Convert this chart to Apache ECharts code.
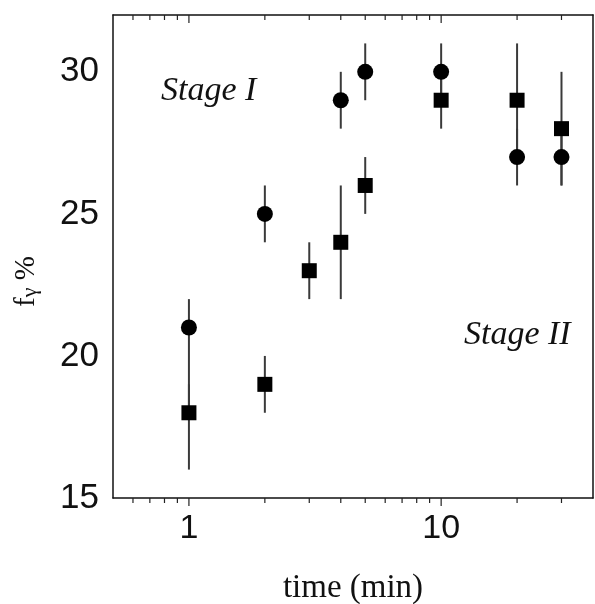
<!DOCTYPE html>
<html>
<head>
<meta charset="utf-8">
<script src="https://cdn.jsdelivr.net/npm/echarts@6/dist/echarts.min.js"></script>
<style>
  html, body { margin: 0; padding: 0; background: #fff; }
  #chart { width: 595px; height: 604px; }
</style>
</head>
<body>
<div id="chart"></div>
<script>
// circles
var circleTime = [1, 2, 4, 5, 10, 20, 30];
var circleValue = [21, 25, 29, 30, 30, 27, 27];
var circleLow = [18, 24, 28, 29, 29, 26, 26];
var circleHigh = [22, 26, 30, 31, 31, 28, 28];

// squares
var squareTime = [1, 2, 3, 4, 5, 10, 20, 30];
var squareValue = [18, 19, 23, 24, 26, 29, 29, 28];
var squareLow = [16, 18, 22, 22, 25, 28, 27, 26];
var squareHigh = [19, 20, 24, 26, 27, 30, 31, 30];

// axis ticks
var xMajorTicks = [1, 10];
var xMinorTicks = [0.6, 0.7, 0.8, 0.9, 2, 3, 4, 5, 6, 7, 8, 9, 20, 30];
var yMajorTicks = [15, 20, 25, 30];
var yMinorTicks = [17.5, 22.5, 27.5];
var xMin = 0.5, xMax = 40, yMin = 15, yMax = 32;

var chart = echarts.init(document.getElementById('chart'));

function zip(xs, ys) {
  return xs.map(function (x, i) { return [x, ys[i]]; });
}
function errData(xs, lo, hi) {
  return xs.map(function (x, i) { return [x, lo[i], hi[i]]; });
}

var lineStyle = { stroke: '#222', lineWidth: 1.2 };

function renderErr(params, api) {
  var a = api.coord([api.value(0), api.value(1)]);
  var b = api.coord([api.value(0), api.value(2)]);
  return {
    type: 'line',
    shape: { x1: a[0], y1: a[1], x2: b[0], y2: b[1] },
    style: { stroke: '#3a3a3a', lineWidth: 2 }
  };
}

// ticks on all four sides: bottom/left outward, top/right inward
function tickRenderer(dir, len) {
  return function (params, api) {
    var v = api.value(0);
    var lines = [];
    if (dir === 'x') {
      var b = api.coord([v, yMin]);
      var t = api.coord([v, yMax]);
      lines.push({ type: 'line', shape: { x1: b[0], y1: b[1], x2: b[0], y2: b[1] + len }, style: lineStyle });
      lines.push({ type: 'line', shape: { x1: t[0], y1: t[1], x2: t[0], y2: t[1] + len }, style: lineStyle });
    } else {
      var l = api.coord([xMin, v]);
      var r = api.coord([xMax, v]);
      lines.push({ type: 'line', shape: { x1: l[0] - len, y1: l[1], x2: l[0], y2: l[1] }, style: lineStyle });
      lines.push({ type: 'line', shape: { x1: r[0] - len, y1: r[1], x2: r[0], y2: r[1] }, style: lineStyle });
    }
    return { type: 'group', children: lines };
  };
}

var option = {
  backgroundColor: '#fff',
  animation: false,
  grid: { left: 113, right: 2, top: 15, bottom: 106, outerBoundsMode: 'none', containLabel: false },
  xAxis: [{
    type: 'log',
    logBase: 10,
    min: xMin,
    max: xMax,
    name: 'time (min)',
    nameLocation: 'middle',
    nameGap: 74,
    nameTextStyle: { fontFamily: 'Liberation Serif', fontSize: 33, color: '#111' },
    axisLine: { lineStyle: { color: '#111', width: 1.5 } },
    axisTick: { show: false },
    splitLine: { show: false },
    axisLabel: {
      margin: 14,
      fontFamily: 'Liberation Sans',
      fontSize: 34,
      color: '#111',
      formatter: function (v) {
        return (Math.abs(v - 1) < 1e-6 || Math.abs(v - 10) < 1e-6) ? Math.round(v) + '' : '';
      }
    }
  }, {
    type: 'log',
    logBase: 10,
    min: xMin,
    max: xMax,
    position: 'top',
    axisLine: { lineStyle: { color: '#111', width: 1.5 } },
    axisTick: { show: false },
    axisLabel: { show: false },
    splitLine: { show: false }
  }],
  yAxis: [{
    type: 'value',
    min: yMin,
    max: yMax,
    interval: 5,
    axisLine: { show: true, lineStyle: { color: '#111', width: 1.5 } },
    axisTick: { show: false },
    splitLine: { show: false },
    axisLabel: {
      margin: 14,
      fontFamily: 'Liberation Sans',
      fontSize: 35,
      color: '#111',
      showMaxLabel: false
    }
  }, {
    type: 'value',
    min: yMin,
    max: yMax,
    interval: 5,
    position: 'right',
    axisLine: { show: true, lineStyle: { color: '#111', width: 1.5 } },
    axisTick: { show: false },
    axisLabel: { show: false },
    splitLine: { show: false }
  }],
  graphic: [{
    type: 'text',
    left: 161, top: 74,
    style: { text: 'Stage I', fontFamily: 'Liberation Serif', fontStyle: 'italic', fontSize: 34, fill: '#111' }
  }, {
    type: 'text',
    left: 464, top: 318,
    style: { text: 'Stage II', fontFamily: 'Liberation Serif', fontStyle: 'italic', fontSize: 34, fill: '#111' }
  }, {
    type: 'text',
    x: 11, y: 307,
    rotation: Math.PI / 2,
    style: {
      text: '{f|f}{g|γ}{p| %}',
      rich: {
        f: { fontFamily: 'Liberation Serif', fontSize: 29, fill: '#111' },
        g: { fontFamily: 'Liberation Serif', fontSize: 22, fill: '#111', padding: [8, 0, 0, 0] },
        p: { fontFamily: 'Liberation Serif', fontSize: 29, fill: '#111' }
      }
    }
  }],
  series: [{
    type: 'custom',
    renderItem: tickRenderer('x', 8),
    data: xMajorTicks.map(function (v) { return [v, yMin]; }),
    silent: true
  }, {
    type: 'custom',
    renderItem: tickRenderer('x', 5),
    data: xMinorTicks.map(function (v) { return [v, yMin]; }),
    silent: true
  }, {
    type: 'custom',
    renderItem: tickRenderer('y', 8),
    data: yMajorTicks.map(function (v) { return [xMin, v]; }),
    encode: { x: 0, y: 1 },
    silent: true
  }, {
    type: 'custom',
    renderItem: tickRenderer('y', 5),
    data: yMinorTicks.map(function (v) { return [xMin, v]; }),
    encode: { x: 0, y: 1 },
    silent: true
  }, {
    type: 'custom',
    renderItem: renderErr,
    data: errData(circleTime, circleLow, circleHigh),
    encode: { x: 0, y: [1, 2] },
    z: 2
  }, {
    type: 'custom',
    renderItem: renderErr,
    data: errData(squareTime, squareLow, squareHigh),
    encode: { x: 0, y: [1, 2] },
    z: 2
  }, {
    type: 'scatter',
    data: zip(circleTime, circleValue),
    symbol: 'circle',
    symbolSize: 16,
    itemStyle: { color: '#000', opacity: 1 },
    z: 3
  }, {
    type: 'scatter',
    data: zip(squareTime, squareValue),
    symbol: 'rect',
    symbolSize: 15,
    itemStyle: { color: '#000', opacity: 1 },
    z: 3
  }]
};

chart.setOption(option);
</script>
</body>
</html>
